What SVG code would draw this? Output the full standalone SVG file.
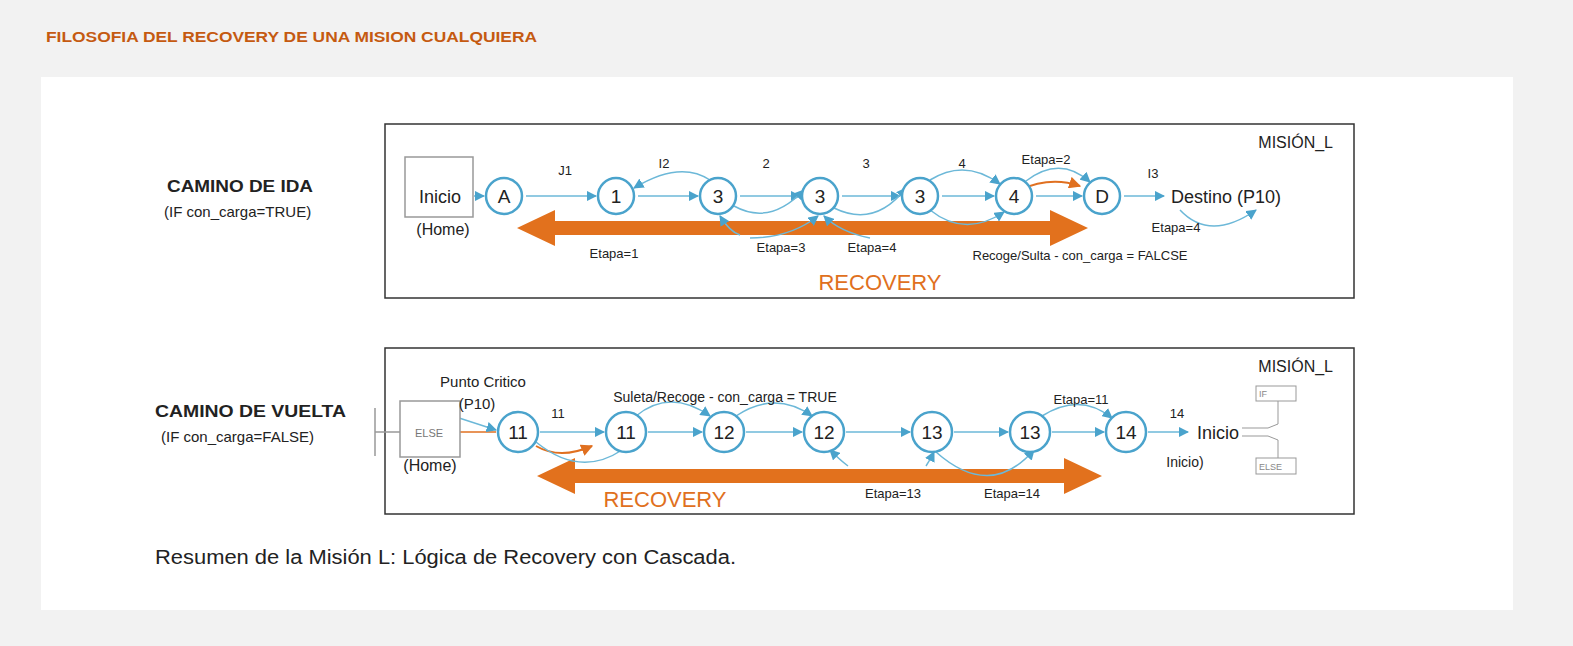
<svg xmlns="http://www.w3.org/2000/svg" width="1573" height="646" viewBox="0 0 1573 646">
<style>
text{font-family:"Liberation Sans",Arial,sans-serif;fill:#222}
.n{fill:#fff;stroke:#4aa3cc;stroke-width:2.5}
.nt{font-size:19px;text-anchor:middle}
.l{font-size:13px;text-anchor:middle}
.c{fill:none;stroke:#6cb8d8;stroke-width:1.5}
.o{fill:none;stroke:#e07020;stroke-width:2}
.rec{fill:#e07020;font-size:22px;text-anchor:middle}
.box{fill:#fff;stroke:#333;stroke-width:1.5}
</style>
<defs>
<marker id="a" viewBox="0 0 10 10" refX="9" refY="5" markerWidth="7" markerHeight="7" orient="auto"><path d="M0,0L10,5L0,10z" fill="#4aa3cc"/></marker>
<marker id="ao" viewBox="0 0 10 10" refX="9" refY="5" markerWidth="6" markerHeight="6" orient="auto"><path d="M0,0L10,5L0,10z" fill="#e07020"/></marker>
</defs>
<rect width="1573" height="646" fill="#f2f2f2"/>
<rect x="41" y="77" width="1472" height="533" fill="#fff"/>
<text x="46" y="42" textLength="491" lengthAdjust="spacingAndGlyphs" style="font-size:14px;font-weight:bold;fill:#c55a11">FILOSOFIA DEL RECOVERY DE UNA MISION CUALQUIERA</text>

<rect class="box" x="385" y="124" width="969" height="174"/>
<rect class="box" x="385" y="348" width="969" height="166"/>
<text x="167" y="192" textLength="146" lengthAdjust="spacingAndGlyphs" style="font-size:16px;font-weight:bold">CAMINO DE IDA</text>
<text x="164" y="217" style="font-size:15px">(IF con_carga=TRUE)</text>
<text x="155" y="417" textLength="191" lengthAdjust="spacingAndGlyphs" style="font-size:16px;font-weight:bold">CAMINO  DE  VUELTA</text>
<text x="161" y="442" style="font-size:15px">(IF con_carga=FALSE)</text>
<text x="1333" y="148" style="font-size:16px;text-anchor:end">MISIÓN_L</text>
<text x="1333" y="372" style="font-size:16px;text-anchor:end">MISIÓN_L</text>

<path d="M517,228L555,210L555,221L1050,221L1050,210L1088,228L1050,246L1050,235L555,235L555,246Z" fill="#e2711d"/>
<path d="M537,476L575,458L575,469L1064,469L1064,458L1102,476L1064,494L1064,483L575,483L575,494Z" fill="#e2711d"/>
<text class="rec" x="880" y="290">RECOVERY</text>
<text class="rec" x="665" y="507">RECOVERY</text>

<g id="connectors">
<path class="c" d="M474,196L484,196" marker-end="url(#a)"/>
<path class="c" d="M526,196L596,196" marker-end="url(#a)"/>
<path class="c" d="M638,196L698,196" marker-end="url(#a)"/>
<path class="c" d="M740,196L800,196" marker-end="url(#a)"/>
<path class="c" d="M842,196L900,196" marker-end="url(#a)"/>
<path class="c" d="M942,196L994,196" marker-end="url(#a)"/>
<path class="c" d="M1036,196L1082,196" marker-end="url(#a)"/>
<path class="c" d="M1124,196L1164,196" marker-end="url(#a)"/>
<path class="c" d="M710,180Q680,160 634,188" marker-end="url(#a)"/>
<path class="c" d="M734,206Q770,226 804,190" marker-end="url(#a)"/>
<path class="c" d="M834,208Q875,228 906,188" marker-end="url(#a)"/>
<path class="c" d="M930,180Q965,158 1000,184" marker-end="url(#a)"/>
<path class="c" d="M930,210Q965,238 1004,212" marker-end="url(#a)"/>
<path class="c" d="M1026,181Q1060,155 1090,182" marker-end="url(#a)"/>
<path class="o" d="M1020,190Q1050,176 1080,186" marker-end="url(#ao)"/>
<path class="c" d="M1180,210Q1210,242 1256,210" marker-end="url(#a)"/>
<path class="c" d="M740,235Q730,232 720,216" marker-end="url(#a)"/>
<path class="c" d="M750,238Q790,238 818,216" marker-end="url(#a)"/>
<path class="c" d="M870,238Q840,232 824,216" marker-end="url(#a)"/>
<path d="M375,408L375,456M375,432L400,432" fill="none" stroke="#999" stroke-width="1.5"/>
<path class="o" d="M460,432L496,432" style="stroke-width:1.5"/>
<path class="c" d="M410,402L496,430" marker-end="url(#a)"/>
<path class="c" d="M540,432L604,432" marker-end="url(#a)"/>
<path class="o" d="M536,446Q560,460 592,446" marker-end="url(#ao)"/>
<path class="c" d="M536,442Q580,478 622,450"/>
<path class="c" d="M648,432L702,432" marker-end="url(#a)"/>
<path class="c" d="M746,432L802,432" marker-end="url(#a)"/>
<path class="c" d="M846,432L910,432" marker-end="url(#a)"/>
<path class="c" d="M954,432L1008,432" marker-end="url(#a)"/>
<path class="c" d="M1052,432L1104,432" marker-end="url(#a)"/>
<path class="c" d="M1148,432L1188,432" marker-end="url(#a)"/>
<path class="c" d="M636,416Q670,388 710,416" marker-end="url(#a)"/>
<path class="c" d="M736,416Q775,390 812,416" marker-end="url(#a)"/>
<path class="c" d="M1042,416Q1080,392 1112,418" marker-end="url(#a)"/>
<path class="c" d="M848,466Q840,460 830,450" marker-end="url(#a)"/>
<path class="c" d="M926,466Q930,460 934,452" marker-end="url(#a)"/>
<path class="c" d="M936,452Q990,500 1034,450" marker-end="url(#a)"/>
<path d="M1278,401L1278,424L1268,428L1242,428M1242,436L1268,436L1278,440L1278,458" fill="none" stroke="#999"/>
</g>

<g id="inicio"><rect x="405" y="157" width="68" height="60" fill="#fff" stroke="#999" stroke-width="1.5"/><text x="440" y="203" style="font-size:18px;text-anchor:middle">Inicio</text><text x="443" y="235" style="font-size:16px;text-anchor:middle">(Home)</text></g>
<g id="nA"><circle class="n" cx="504" cy="196" r="18"/><text class="nt" x="504" y="203">A</text></g>
<g id="n1"><circle class="n" cx="616" cy="196" r="18"/><text class="nt" x="616" y="203">1</text></g>
<g id="n3a"><circle class="n" cx="718" cy="196" r="18"/><text class="nt" x="718" y="203">3</text></g>
<g id="n3b"><circle class="n" cx="820" cy="196" r="18"/><text class="nt" x="820" y="203">3</text></g>
<g id="n3c"><circle class="n" cx="920" cy="196" r="18"/><text class="nt" x="920" y="203">3</text></g>
<g id="n4"><circle class="n" cx="1014" cy="196" r="18"/><text class="nt" x="1014" y="203">4</text></g>
<g id="nD"><circle class="n" cx="1102" cy="196" r="18"/><text class="nt" x="1102" y="203">D</text></g>
<g id="destino"><text x="1226" y="203" style="font-size:18px;text-anchor:middle">Destino (P10)</text></g>

<text class="l" x="565" y="175">J1</text>
<text class="l" x="664" y="168">I2</text>
<text class="l" x="766" y="168">2</text>
<text class="l" x="866" y="168">3</text>
<text class="l" x="962" y="168">4</text>
<text class="l" x="1046" y="164">Etapa=2</text>
<text class="l" x="1153" y="178">I3</text>
<text class="l" x="1176" y="232">Etapa=4</text>
<text class="l" x="614" y="258">Etapa=1</text>
<text class="l" x="781" y="252">Etapa=3</text>
<text class="l" x="872" y="252">Etapa=4</text>
<text class="l" x="1080" y="260">Recoge/Sulta - con_carga = FALCSE</text>

<g id="else"><rect x="400" y="401" width="60" height="56" fill="#fff" stroke="#999" stroke-width="1.5"/><text x="429" y="437" style="font-size:11px;fill:#777;text-anchor:middle">ELSE</text><text x="430" y="471" style="font-size:16px;text-anchor:middle">(Home)</text></g>
<g id="m11a"><circle class="n" cx="518" cy="432" r="20"/><text class="nt" x="518" y="439">11</text></g>
<g id="m11b"><circle class="n" cx="626" cy="432" r="20"/><text class="nt" x="626" y="439">11</text></g>
<g id="m12a"><circle class="n" cx="724" cy="432" r="20"/><text class="nt" x="724" y="439">12</text></g>
<g id="m12b"><circle class="n" cx="824" cy="432" r="20"/><text class="nt" x="824" y="439">12</text></g>
<g id="m13a"><circle class="n" cx="932" cy="432" r="20"/><text class="nt" x="932" y="439">13</text></g>
<g id="m13b"><circle class="n" cx="1030" cy="432" r="20"/><text class="nt" x="1030" y="439">13</text></g>
<g id="m14"><circle class="n" cx="1126" cy="432" r="20"/><text class="nt" x="1126" y="439">14</text></g>
<g id="inicio2"><text x="1218" y="439" style="font-size:18px;text-anchor:middle">Inicio</text><text x="1185" y="467" style="font-size:14px;text-anchor:middle">Inicio)</text></g>
<g id="ifelse"><rect x="1256" y="386" width="40" height="15" fill="#fff" stroke="#999"/><text x="1259" y="397" style="font-size:9px;fill:#888">IF</text><rect x="1256" y="458" width="40" height="16" fill="#fff" stroke="#999"/><text x="1259" y="470" style="font-size:9px;fill:#888">ELSE</text></g>

<text x="483" y="387" style="font-size:15px;text-anchor:middle">Punto Critico</text>
<text x="477" y="409" style="font-size:15px;text-anchor:middle">(P10)</text>
<text class="l" x="558" y="418">11</text>
<text x="725" y="402" style="font-size:14px;text-anchor:middle">Suleta/Recoge - con_carga = TRUE</text>
<text class="l" x="1081" y="404">Etapa=11</text>
<text class="l" x="1177" y="418">14</text>
<text class="l" x="893" y="498">Etapa=13</text>
<text class="l" x="1012" y="498">Etapa=14</text>

<text x="155" y="564" textLength="581" lengthAdjust="spacingAndGlyphs" style="font-size:20px">Resumen de la Misión L: Lógica de Recovery con Cascada.</text>
</svg>
